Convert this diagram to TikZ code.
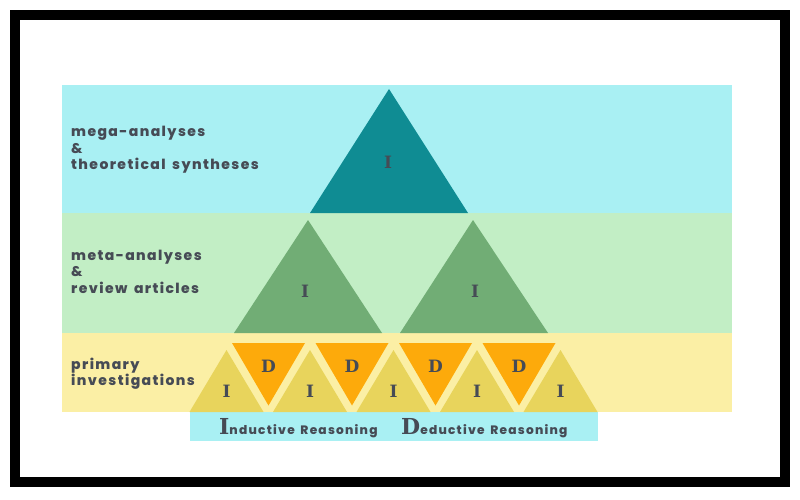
\documentclass[tikz,border=0pt]{standalone}
\usepackage{fontspec}
\setmainfont{Poppins}
\newfontfamily\heavyfont{Poppins ExtraBold}[LetterSpace=10, WordSpace=1.6]
\newfontfamily\glyphfont{DejaVu Serif}
\usepackage{xcolor}
\usepackage{tikz}
\definecolor{bandcyan}{RGB}{169,240,243}
\definecolor{bandgreen}{RGB}{194,238,197}
\definecolor{bandyellow}{RGB}{251,239,165}
\definecolor{teal}{RGB}{15,140,147}
\definecolor{leaf}{RGB}{113,173,117}
\definecolor{gold}{RGB}{232,212,92}
\definecolor{amber}{RGB}{253,170,11}
\definecolor{ink}{RGB}{70,75,85}

\tikzset{
  level/.style={anchor=west, align=left, inner sep=0pt, text=ink,
    font=\heavyfont\fontsize{14}{16.5}\selectfont},
  mark I/.style={inner sep=0pt, text=ink, font=\glyphfont\bfseries\fontsize{17}{17}\selectfont},
  legend/.style={anchor=west, inner sep=0pt, text=ink}
}
\newcommand{\bigglyph}[1]{{\glyphfont\bfseries\fontsize{22}{22}\selectfont #1}}
\newcommand{\legendtext}[1]{{\heavyfont\fontsize{12.2}{13}\selectfont #1}}

\begin{document}
\begin{tikzpicture}[x=1pt,y=-1pt]
	\useasboundingbox (0,0) rectangle (800,500);
	\fill[white] (0,0) rectangle (800,500);
	\draw[line width=10pt] (15,15) rectangle (784.5,482);
	
	% bands
	\fill[bandcyan] (62,85) rectangle (732,213);
	\fill[bandgreen] (62,213) rectangle (732,333);
	\fill[bandyellow] (62,333) rectangle (732,412);
	\fill[bandcyan] (190,412) rectangle (598,441);
	
	% top level
	\fill[teal] (389,89) - - (310,213) - - (468,213) - - cycle;
	
	% middle level
	\fill[leaf] (308,220) - - (234,333) - - (382,333) - - cycle;
	\fill[leaf] (473,220) - - (400,333) - - (548,333) - - cycle;
	
	% bottom level
	\fill[gold] (226.5,350) - - (189.5,412) - - (263.5,412) - - cycle;
	\fill[gold] (310,350) - - (273,412) - - (347,412) - - cycle;
	\fill[gold] (393.5,350) - - (356.5,412) - - (430.5,412) - - cycle;
	\fill[gold] (477,350) - - (440,412) - - (514,412) - - cycle;
	\fill[gold] (560.5,350) - - (523.5,412) - - (597.5,412) - - cycle;
	\fill[amber] (232,343) - - (305,343) - - (268.5,405.5) - - cycle;
	\fill[amber] (315.5,343) - - (388.5,343) - - (352,405.5) - - cycle;
	\fill[amber] (399,343) - - (472,343) - - (435.5,405.5) - - cycle;
	\fill[amber] (482.5,343) - - (555.5,343) - - (519,405.5) - - cycle;
	
	\node[mark I] (t1) at (388,162) {I};
	\node[mark I] (m1) at (305,291) {I};
	\node[mark I] (m2) at (475,291) {I};
	\node[mark I] (b1) at (226.5,391) {I};
	\node[mark I] (b2) at (310,391) {I};
	\node[mark I] (b3) at (393.5,391) {I};
	\node[mark I] (b4) at (477,391) {I};
	\node[mark I] (b5) at (560.5,391) {I};
	\node[mark I] (d1) at (268.5,366) {D};
	\node[mark I] (d2) at (352,366) {D};
	\node[mark I] (d3) at (435.5,366) {D};
	\node[mark I] (d4) at (519,366) {D};
	
	\node[level] (mega) at (71,150) {mega-analyses\\\&\\theoretical syntheses};
	\node[level] (meta) at (71,271.5) {meta-analyses\\\&\\review articles};
	\node[level] (prim) at (71,373.5) {primary\\investigations};
	
	\node[legend] (ind) at (219,428) {\bigglyph{I}\legendtext{nductive Reasoning}};
	\node[legend] (ded) at (401,428) {\bigglyph{D}\legendtext{eductive Reasoning}};
\end{tikzpicture}
\end{document}
